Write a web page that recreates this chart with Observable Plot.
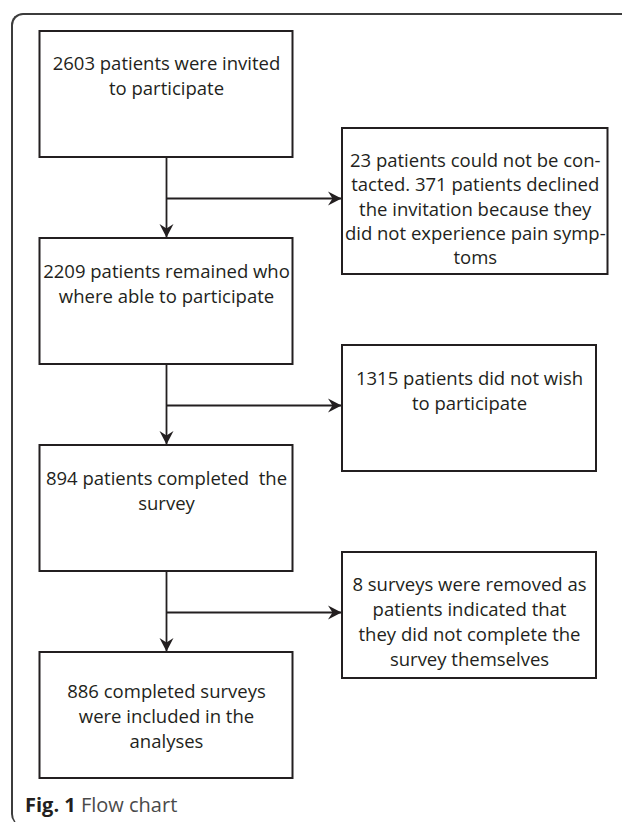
<!DOCTYPE html>
<html><head>
<meta charset="utf-8">
<script src="https://cdn.jsdelivr.net/npm/d3@7"></script>
<script src="https://cdn.jsdelivr.net/npm/@observablehq/plot@0.6"></script>
<style>
  html, body { margin: 0; padding: 0; background: #fff; }
  #page { position: relative; width: 622px; height: 822px; overflow: hidden; }
  #chart svg { display: block; }
  #chart svg text { white-space: pre; }
  #frame { position: absolute; left: 11px; top: 13px; width: 700px; height: 811px;
           border-left: 2px solid #3c3c3c; border-top: 2px solid #3c3c3c;
           border-top-left-radius: 12px; border-bottom-left-radius: 12px; pointer-events: none; }
  #caption { position: absolute; left: 25px; top: 795px; font-family: "Open Sans", sans-serif;
             font-size: 20px; line-height: 20px; color: #4a4a4a; white-space: nowrap; }
  #caption b { color: #231f20; font-weight: 700; }
</style>
</head><body>
<div id="page">
  <div id="chart"></div>
  <div id="caption"></div>
  <div id="frame"></div>
</div>
<script>
// ---- data ----
const mainSteps = [
  "2603 patients were invited\nto participate",
  "2209 patients remained who\nwhere able to participate",
  "894 patients completed  the\nsurvey",
  "886 completed surveys\nwere included in the\nanalyses"
];
const exclusionSteps = [
  "23 patients could not be con-\ntacted. 371 patients declined\nthe invitation because they\ndid not experience pain symp-\ntoms",
  "1315 patients did not wish\nto participate",
  "8 surveys were removed as\npatients indicated that\nthey did not complete the\nsurvey themselves"
];
const stageCounts = [2603, 2209, 894, 886];
const excludedCounts = [394, 1315, 8];
const captionLabel = "Fig. 1";
const captionText = "Flow chart";

// ---- layout (diagram geometry) ----
const layout = {
  mainX1: 39.5, mainX2: 292.5,
  sideX1: 342, sideX2: [607.5, 596, 596],
  top0: 31, step: 207, mainH: 126,
  sideH: [146, 126, 126],
  branchGap: 41, sideShift: 3,
  mainPad: [20.5, 21.5, 21.5, 27.5], sidePad: [21, 22, 20.5],
  sideLine: [24.4, 25, 25]
};
const ink = "#231f20";
const fontSize = 18.5;

const main = mainSteps.map((text, i) => ({
  text, count: stageCounts[i],
  x1: layout.mainX1, x2: layout.mainX2,
  y1: layout.top0 + i * layout.step,
  y2: layout.top0 + i * layout.step + layout.mainH,
  pad: layout.mainPad[i]
}));
const trunkX = (layout.mainX1 + layout.mainX2) / 2;
const side = exclusionSteps.map((text, i) => {
  const by = main[i].y2 + layout.branchGap;
  const c = by + layout.sideShift;
  const h = layout.sideH[i];
  return { text, count: excludedCounts[i], by, x1: layout.sideX1, x2: layout.sideX2[i],
           y1: c - h / 2, y2: c + h / 2, pad: layout.sidePad[i], lh: layout.sideLine[i] };
});
const trunks = side.map((s, i) => ({ x: trunkX, ya: main[i].y2, yb: main[i + 1].y1 }));
const branches = side.map(s => ({ y: s.by, xa: trunkX, xb: s.x1 }));
const heads = [
  ...trunks.map(t => ({ x: t.x, y: t.yb - 1, angle: 90 })),
  ...branches.map(b => ({ x: b.xb - 1, y: b.y, angle: 0 }))
];

// concave arrowhead with its tip at the origin, pointing right
const arrowHead = {
  draw(ctx) {
    ctx.moveTo(0, 0);
    ctx.lineTo(-13.5, -7);
    ctx.lineTo(-9, 0);
    ctx.lineTo(-13.5, 7);
    ctx.closePath();
  }
};

const textOpts = { lineAnchor: "top", textAnchor: "middle", fontSize, fill: ink, fontFamily: "'Open Sans', sans-serif" };

const chart = Plot.plot({
  width: 622, height: 790, margin: 0,
  x: { type: "identity", axis: null },
  y: { type: "identity", axis: null },
  style: { background: "transparent", fontFamily: "'Open Sans', sans-serif" },
  marks: [
    Plot.link(trunks, { x1: "x", x2: "x", y1: "ya", y2: "yb", stroke: ink, strokeWidth: 1.8 }),
    Plot.link(branches, { x1: "xa", x2: "xb", y1: "y", y2: "y", stroke: ink, strokeWidth: 1.8 }),
    Plot.dot(heads, { x: "x", y: "y", rotate: "angle", symbol: arrowHead, fill: ink, stroke: "none" }),
    Plot.rect(main, { x1: "x1", x2: "x2", y1: "y1", y2: "y2", fill: "white", stroke: ink, strokeWidth: 2 }),
    Plot.rect(side, { x1: "x1", x2: "x2", y1: "y1", y2: "y2", fill: "white", stroke: ink, strokeWidth: 2 }),
    Plot.text(main, {
      ...textOpts, x: d => (d.x1 + d.x2) / 2, y: d => d.y1 + d.pad, text: "text",
      lineHeight: 25 / fontSize
    }),
    ...side.map(s => Plot.text([s], {
      ...textOpts, x: d => (d.x1 + d.x2) / 2, y: d => d.y1 + d.pad, text: "text",
      lineHeight: s.lh / fontSize
    }))
  ]
});
document.getElementById("chart").append(chart);

const cap = document.getElementById("caption");
const b = document.createElement("b");
b.textContent = captionLabel;
cap.append(b, " " + captionText);
</script>
</body></html>
